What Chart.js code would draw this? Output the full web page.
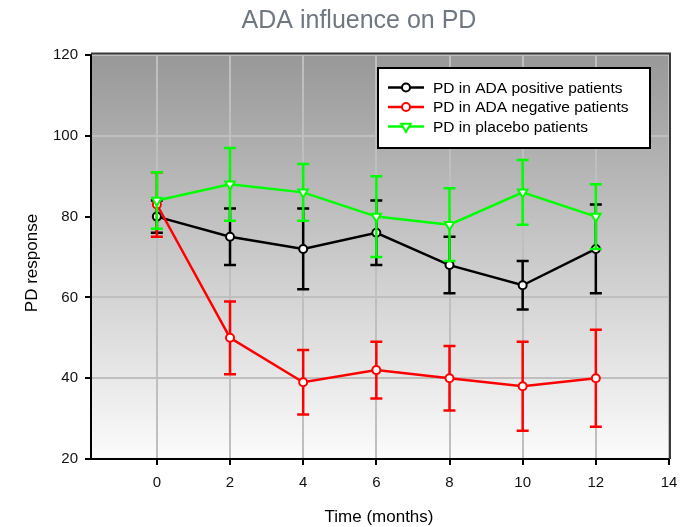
<!DOCTYPE html>
<html><head><meta charset="utf-8">
<script src="https://cdn.jsdelivr.net/npm/chart.js@4/dist/chart.umd.min.js"></script>
<style>html,body{margin:0;padding:0;background:#fff}#wrap{width:683px;height:527px}</style>
</head><body><div id="wrap"><canvas id="c" width="683" height="527"></canvas></div>
<script>
// ---- data ----
const months = [0, 2, 4, 6, 8, 10, 12];
const xTicks = [0, 2, 4, 6, 8, 10, 12, 14];
const yTicks = [20, 40, 60, 80, 100, 120];
const adaPositive = [80, 75, 72, 76, 68, 63, 72];
const adaPositiveErr = [4, 7, 10, 8, 7, 6, 11];
const adaNegative = [83, 50, 39, 42, 40, 38, 40];
const adaNegativeErr = [8, 9, 8, 7, 8, 11, 12];
const placebo = [84, 88, 86, 80, 78, 86, 80];
const placeboErr = [7, 9, 7, 10, 9, 8, 8];
const seriesNames = ['PD in ADA positive patients', 'PD in ADA negative patients', 'PD in placebo patients'];
const chartTitle = 'ADA influence on PD';
const xTitle = 'Time (months)';
const yTitle = 'PD response';

const FONT = '"Liberation Sans", Arial, Helvetica, sans-serif';
const COLORS = ['#000000', '#ff0000', '#00ff00'];
const errs = [adaPositiveErr, adaNegativeErr, placeboErr];

function pts(vals) { return months.map((m, i) => ({ x: m, y: vals[i] })); }

function makeDs(label, vals, color, style, order) {
  return {
    label, data: pts(vals), borderColor: color, backgroundColor: '#ffffff',
    borderWidth: 2.5, showLine: true, tension: 0,
    pointStyle: style, pointRotation: style === 'triangle' ? 180 : 0,
    pointRadius: style === 'triangle' ? 5.5 : 4, pointBorderWidth: 2,
    pointBackgroundColor: '#ffffff', pointBorderColor: color, order
  };
}

const bgPlugin = {
  id: 'bg',
  beforeDraw(chart) {
    const { ctx, chartArea: a } = chart;
    ctx.save();
    ctx.fillStyle = '#ffffff';
    ctx.fillRect(0, 0, chart.width, chart.height);
    const g = ctx.createLinearGradient(0, a.top, 0, a.bottom);
    g.addColorStop(0, '#989898');
    g.addColorStop(1, '#fcfcfc');
    ctx.fillStyle = g;
    ctx.fillRect(a.left, a.top, a.right - a.left, a.bottom - a.top);
    ctx.restore();
  }
};

const errPlugin = {
  id: 'errbars',
  beforeDatasetDraw(chart, args) {
    const i = args.index;
    const e = errs[i];
    if (!e) return;
    const ds = chart.data.datasets[i];
    const xs = chart.scales.x, ys = chart.scales.y;
    const ctx = chart.ctx;
    ctx.save();
    ctx.strokeStyle = ds.borderColor;
    ctx.lineWidth = 2.5;
    ds.data.forEach((p, k) => {
      const x = xs.getPixelForValue(p.x);
      const y1 = ys.getPixelForValue(p.y + e[k]);
      const y2 = ys.getPixelForValue(p.y - e[k]);
      ctx.beginPath();
      ctx.moveTo(x, y1); ctx.lineTo(x, y2);
      ctx.moveTo(x - 6, y1); ctx.lineTo(x + 6, y1);
      ctx.moveTo(x - 6, y2); ctx.lineTo(x + 6, y2);
      ctx.stroke();
    });
    ctx.restore();
  }
};

function marker(ctx, style, x, y, color) {
  ctx.save();
  ctx.fillStyle = '#ffffff';
  ctx.strokeStyle = color;
  ctx.lineWidth = 2;
  ctx.beginPath();
  if (style === 'triangle') {
    const r = 5.5;
    let rad = Math.PI;
    ctx.moveTo(x + Math.sin(rad) * r, y - Math.cos(rad) * r);
    rad += 2 * Math.PI / 3;
    ctx.lineTo(x + Math.sin(rad) * r, y - Math.cos(rad) * r);
    rad += 2 * Math.PI / 3;
    ctx.lineTo(x + Math.sin(rad) * r, y - Math.cos(rad) * r);
    ctx.closePath();
  } else {
    ctx.arc(x, y, 4, 0, Math.PI * 2);
  }
  ctx.fill();
  ctx.stroke();
  ctx.restore();
}

const decoPlugin = {
  id: 'deco',
  afterDraw(chart) {
    const { ctx, chartArea: a } = chart;
    ctx.save();
    // frame top/right
    ctx.strokeStyle = '#3a3a3a';
    ctx.lineWidth = 2;
    ctx.beginPath();
    ctx.moveTo(a.left, a.top - 1.5); ctx.lineTo(a.right + 1, a.top - 1.5); ctx.lineTo(a.right + 1, a.bottom);
    ctx.stroke();
    // title
    ctx.fillStyle = '#6f7780';
    ctx.font = '25px ' + FONT;
    ctx.textAlign = 'center';
    ctx.textBaseline = 'alphabetic';
    ctx.fillText(chartTitle, 359, 28);
    // axis titles
    ctx.fillStyle = '#000000';
    ctx.font = '17px ' + FONT;
    ctx.fillText(xTitle, 379, 522);
    ctx.save();
    ctx.translate(37, 263);
    ctx.rotate(-Math.PI / 2);
    ctx.fillText(yTitle, 0, 0);
    ctx.restore();
    // legend
    const bx = 378, by = 68, bw = 272, bh = 80;
    ctx.fillStyle = '#ffffff';
    ctx.fillRect(bx, by, bw, bh);
    ctx.strokeStyle = '#000000';
    ctx.lineWidth = 2;
    ctx.strokeRect(bx, by, bw, bh);
    const styles = ['circle', 'circle', 'triangle'];
    const rowY = [87.5, 107, 126.5];
    ctx.font = '15.5px ' + FONT;
    ctx.textAlign = 'left';
    ctx.textBaseline = 'middle';
    seriesNames.forEach((n, i) => {
      ctx.strokeStyle = COLORS[i];
      ctx.lineWidth = 2.5;
      ctx.beginPath();
      ctx.moveTo(388, rowY[i]); ctx.lineTo(424, rowY[i]);
      ctx.stroke();
      marker(ctx, styles[i], 406, rowY[i], COLORS[i]);
      ctx.fillStyle = '#000000';
      ctx.fillText(n, 433, rowY[i] + 1);
    });
    ctx.restore();
  }
};

new Chart(document.getElementById('c'), {
  type: 'scatter',
  data: {
    datasets: [
      makeDs(seriesNames[0], adaPositive, COLORS[0], 'circle', 2),
      makeDs(seriesNames[1], adaNegative, COLORS[1], 'circle', 1),
      makeDs(seriesNames[2], placebo, COLORS[2], 'triangle', 0)
    ]
  },
  options: {
    responsive: false, animation: false, devicePixelRatio: 1,
    layout: { padding: { top: 55, right: 14, left: 0, bottom: 0 } },
    plugins: { legend: { display: false }, title: { display: false }, tooltip: { enabled: false } },
    scales: {
      x: {
        type: 'linear', min: -1.8, max: 14,
        afterBuildTicks(s) { s.ticks = xTicks.map(v => ({ value: v })); },
        afterFit(s) { s.height = 68; s.paddingLeft = 0; s.paddingRight = 0; },
        grid: { color: '#bfbfbf', lineWidth: 2, tickColor: '#000000', tickWidth: 2, tickLength: 6 },
        border: { display: true, color: '#000000', width: 2 },
        ticks: { color: '#111111', font: { family: FONT, size: 15 }, padding: 9, maxRotation: 0 }
      },
      y: {
        type: 'linear', min: 20, max: 120,
        afterBuildTicks(s) { s.ticks = yTicks.map(v => ({ value: v })); },
        afterFit(s) { s.width = 91; s.paddingTop = 0; s.paddingBottom = 0; },
        grid: { color: '#bfbfbf', lineWidth: 2, tickColor: '#000000', tickWidth: 2, tickLength: 6 },
        border: { display: true, color: '#000000', width: 2 },
        ticks: { color: '#111111', font: { family: FONT, size: 15 }, padding: 7 }
      }
    }
  },
  plugins: [bgPlugin, errPlugin, decoPlugin]
});
</script></body></html>
